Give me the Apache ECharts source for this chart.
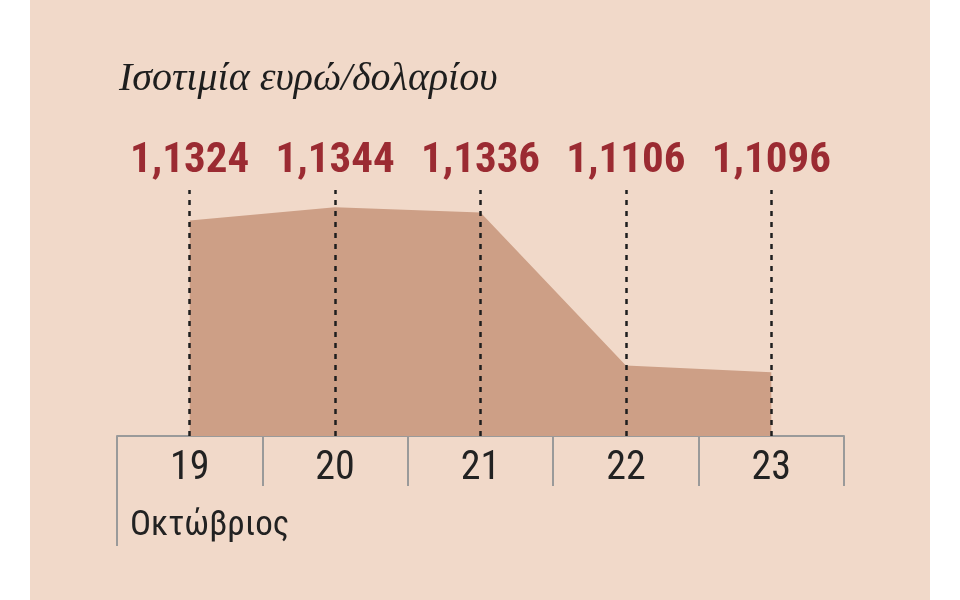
<!DOCTYPE html>
<html>
<head>
<meta charset="utf-8">
<script src="https://cdn.jsdelivr.net/npm/echarts@6/dist/echarts.min.js"></script>
<style>
  html, body { margin: 0; padding: 0; background: #fff; }
  #panel { position: absolute; left: 30px; top: 0; width: 900px; height: 600px; background: #f1d9c9; }
  #chart { position: absolute; left: 0; top: 0; width: 960px; height: 600px; }
</style>
</head>
<body>
<div id="panel"></div>
<div id="chart"></div>
<script>
  // euro/dollar rate, October
  var days = ['19', '20', '21', '22', '23'];
  var rates = [1.1324, 1.1344, 1.1336, 1.1106, 1.1096];
  var titleText = 'Ισοτιμία ευρώ/δολαρίου';
  var monthText = 'Οκτώβριος';

  var narrow = "'Roboto Condensed', 'Noto Sans Condensed', 'DejaVu Sans Condensed', 'Liberation Sans Narrow', Roboto, sans-serif";
  var gridLeft = 117, gridRight = 960 - 844, gridTop = 190, gridBottom = 600 - 436;

  function fmt(v) {
    return v.toFixed(4).replace('.', ',');
  }

  var chart = echarts.init(document.getElementById('chart'));

  var option = {
    backgroundColor: 'transparent',
    animation: false,
    title: [{
      text: titleText,
      left: 114,
      top: 54,
      textStyle: {
        fontFamily: 'Liberation Serif',
        fontStyle: 'italic',
        fontWeight: 'normal',
        fontSize: 40,
        color: '#1e1e1e'
      }
    }, {
      text: monthText,
      left: 125,
      top: 504,
      textStyle: {
        fontFamily: narrow,
        fontWeight: 'normal',
        fontSize: 35,
        color: '#222'
      }
    }],
    grid: {
      left: gridLeft,
      right: gridRight,
      top: gridTop,
      bottom: gridBottom
    },
    xAxis: {
      type: 'category',
      data: days,
      boundaryGap: true,
      axisLine: { show: true, lineStyle: { color: '#9a9a9a', width: 2 } },
      axisTick: { show: true, length: 50, alignWithLabel: false, lineStyle: { color: '#9a9a9a', width: 2 } },
      axisLabel: {
        margin: 13,
        fontFamily: narrow,
        fontSize: 40,
        color: '#222'
      },
      splitLine: { show: false }
    },
    yAxis: {
      type: 'value',
      min: 1.10,
      max: 1.137,
      show: false
    },
    graphic: [{
      type: 'line',
      shape: { x1: gridLeft, y1: 436, x2: gridLeft, y2: 546 },
      style: { stroke: '#9a9a9a', lineWidth: 2 },
      silent: true
    }],
    series: [{
      type: 'line',
      data: rates,
      symbol: 'none',
      lineStyle: { width: 0 },
      areaStyle: { color: '#cd9f86', opacity: 1 },
      markLine: {
        silent: true,
        symbol: 'none',
        lineStyle: { color: '#1e1e1e', width: 2.5, type: [5, 6] },
        label: {
          show: true,
          position: 'end',
          distance: 7,
          fontFamily: narrow,
          fontWeight: 'bold',
          fontSize: 43,
          color: '#9b2b32',
          formatter: function (p) {
            return fmt(rates[days.indexOf(p.data.xAxis)]);
          }
        },
        data: days.map(function (d) { return { xAxis: d }; })
      }
    }]
  };

  chart.setOption(option);
</script>
</body>
</html>
